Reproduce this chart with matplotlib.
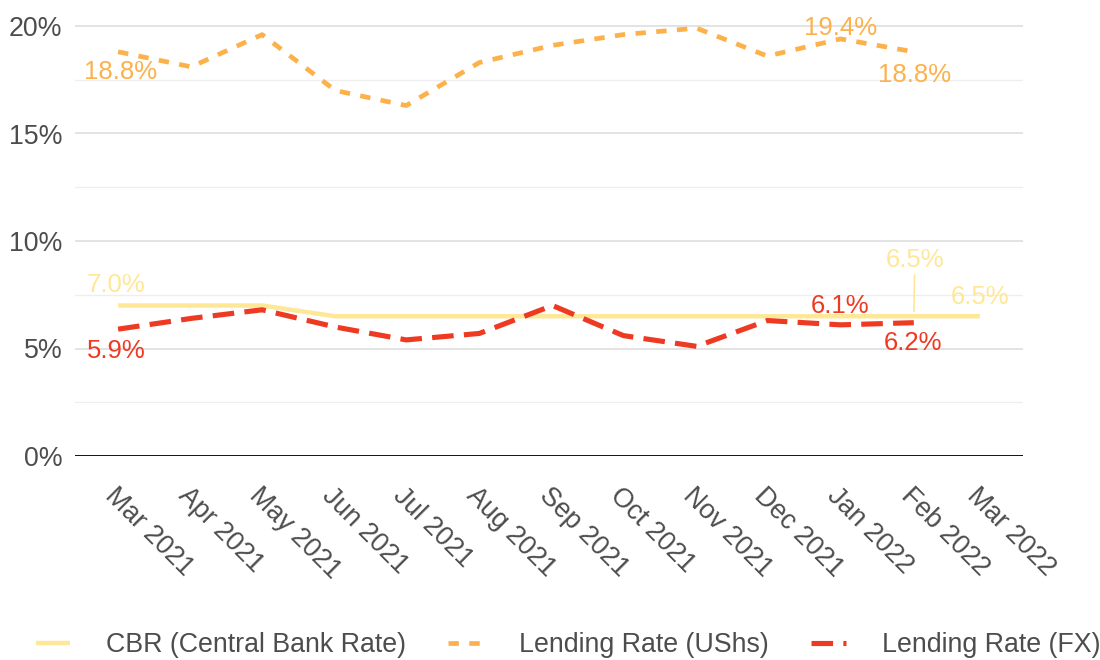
import numpy as np
import pandas as pd
import matplotlib
matplotlib.use("Agg")
import matplotlib.pyplot as plt
import matplotlib.dates as mdates
from matplotlib.lines import Line2D
from matplotlib.transforms import ScaledTranslation

plt.rcParams['font.family'] = ['Liberation Sans', 'DejaVu Sans']

# data (monthly, %)
months = pd.date_range('2021-03-01', '2022-03-01', freq='MS')
cbr = [7.0, 7.0, 7.0, 6.5, 6.5, 6.5, 6.5, 6.5, 6.5, 6.5, 6.5, 6.5, 6.5]
lending_ushs = [18.8, 18.1, 19.6, 17.0, 16.3, 18.3, 19.1, 19.6, 19.9, 18.6, 19.4, 18.8]
lending_fx = [5.9, 6.4, 6.8, 6.0, 5.4, 5.7, 7.0, 5.6, 5.1, 6.3, 6.1, 6.2]

CBR_COL = '#FEE898'
USH_COL = '#FDB14B'
FX_COL = '#EE3A23'
TXT_COL = '#4D4D4D'
FS = 19.3       # axis / legend text
FS_LAB = 18.5   # value labels

fig = plt.figure(figsize=(11, 6.6), dpi=100)
ax = fig.add_axes([75 / 1100, 204 / 660, 948 / 1100, 438.6 / 660])

ax.plot(months, cbr, color=CBR_COL, lw=3.2, solid_capstyle='butt', zorder=3)
ax.plot(months[:len(lending_ushs)], lending_ushs, color=USH_COL, lw=3.4,
        dashes=(2.2, 2.2), dash_capstyle='butt', zorder=4)
ax.plot(months[:len(lending_fx)], lending_fx, color=FX_COL, lw=3.7,
        dashes=(4.2, 2.0), dash_capstyle='butt', zorder=5)

# value labels: (series, index, dx pt, dy pt)
series = {'cbr': (cbr, CBR_COL), 'ush': (lending_ushs, USH_COL), 'fx': (lending_fx, FX_COL)}
labels = [
    ('ush', 0, 2, -14.6), ('ush', 10, 0, 8), ('ush', 11, 0.7, -16.5),
    ('cbr', 0, -1.4, 14.4), ('cbr', 12, 0, 13.7),
    ('fx', 0, -1.4, -15.8), ('fx', 10, -0.7, 13.7), ('fx', 11, -0.7, -14.4),
]
for key, i, dx, dy in labels:
    vals, col = series[key]
    ax.annotate(f'{vals[i]:.1f}%', xy=(months[i], vals[i]), xytext=(dx, dy),
                textcoords='offset points', ha='center', va='center',
                color=col, fontsize=FS_LAB, zorder=6)

# repelled label with leader line
ax.annotate(f'{cbr[11]:.1f}%', xy=(months[11], cbr[11]), xytext=(0.7, 40.3),
            textcoords='offset points', ha='center', va='center',
            color=CBR_COL, fontsize=FS_LAB, zorder=6,
            arrowprops=dict(arrowstyle='-', color=CBR_COL, lw=1.2,
                            shrinkA=0, shrinkB=3.6))

pad_days = pd.Timedelta(days=18.25)
ax.set_xlim(months[0] - pad_days, months[-1] + pad_days)
ax.set_ylim(0, 20.4)

ax.set_yticks([0, 5, 10, 15, 20])
ax.set_yticklabels(['0%', '5%', '10%', '15%', '20%'])
ax.set_yticks([2.5, 7.5, 12.5, 17.5], minor=True)
ax.grid(axis='y', which='major', color='#E3E3E3', lw=1.4, zorder=0)
ax.grid(axis='y', which='minor', color='#EEEEEE', lw=0.9, zorder=0)
ax.axhline(0, color='black', lw=2.0, zorder=2)

ax.set_xticks(months)
ax.set_xticklabels([d.strftime('%b %Y') for d in months], rotation=-45,
                   ha='left', va='top', rotation_mode='anchor')
offset = ScaledTranslation(-7.5 / 100, 0, fig.dpi_scale_trans)
for lab in ax.get_xticklabels():
    lab.set_transform(lab.get_transform() + offset)

ax.tick_params(axis='x', length=0, pad=19.3, labelsize=FS, labelcolor=TXT_COL)
ax.tick_params(axis='y', which='both', length=0, pad=9.0, labelsize=FS, labelcolor=TXT_COL)
for s in ax.spines.values():
    s.set_visible(False)

handles = [
    Line2D([], [], color=CBR_COL, lw=3.2, solid_capstyle='butt'),
    Line2D([], [], color=USH_COL, lw=3.4, dashes=(2.2, 2.2), dash_capstyle='butt'),
    Line2D([], [], color=FX_COL, lw=3.7, dashes=(4.2, 2.0), dash_capstyle='butt'),
]
fig.legend(handles, ['CBR (Central Bank Rate)', 'Lending Rate (UShs)', 'Lending Rate (FX)'],
           loc='center', bbox_to_anchor=(568 / 1100, 1 - 645 / 660), ncol=3,
           frameon=False, fontsize=FS, labelcolor=TXT_COL, handlelength=1.3,
           handletextpad=1.34, columnspacing=1.57, borderpad=0, borderaxespad=0)

fig.savefig('out.png', dpi=100)
